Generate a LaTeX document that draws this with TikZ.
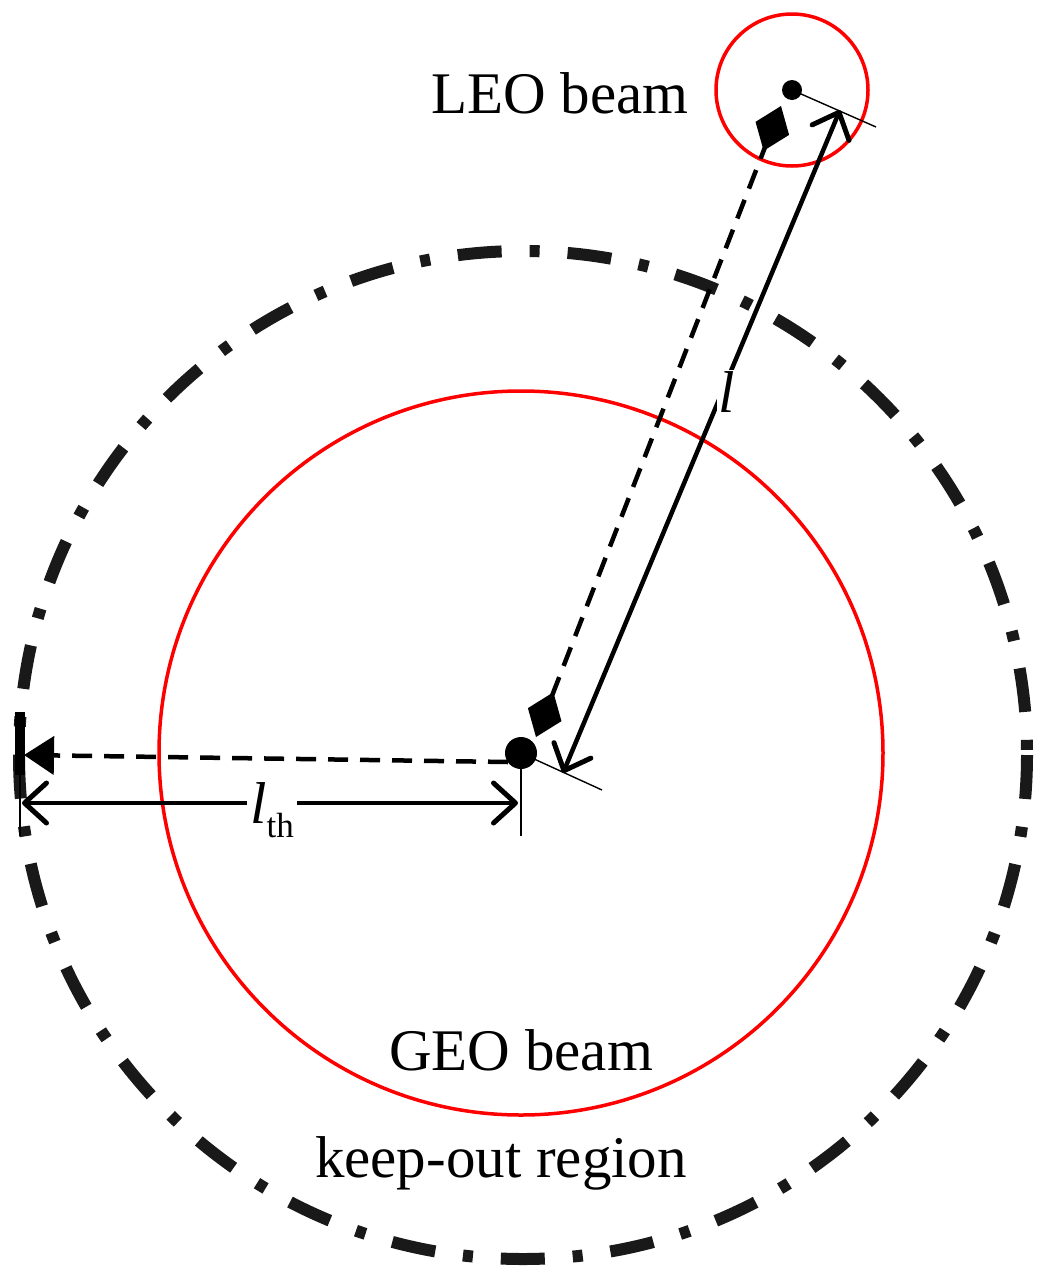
\documentclass[tikz,border=0pt]{standalone}
\usepackage{fontspec}
\setmainfont{Liberation Serif}
\usetikzlibrary{arrows.meta}
\begin{document}
\begin{tikzpicture}[x=1pt,y=-1pt,
  beam/.style={draw=red,line width=3.5pt},
  keep/.style={draw=black!90,line width=12pt,dash pattern=on 44pt off 28pt on 10pt off 28pt},
  thin/.style={line width=1.4pt},
  barb/.tip={Straight Barb[length=22pt,width=40pt,line width=5pt,round]},
  dim/.style={line width=4.5pt,barb-barb},
  dashdim/.style={line width=4.5pt,dash pattern=on 20pt off 12pt},
  lbl/.style={font=\fontsize{59}{62}\selectfont}]
\useasboundingbox (0,0) rectangle (1049,1283);
\coordinate (geo) at (521,753);
\coordinate (leo) at (792,90);
\draw[beam] (geo) circle (362);
\draw[beam] (leo) circle (76);
\draw[keep] (523,755) circle (504);
% thin ticks
\draw[thin] (geo) -- (602,790);
\draw[thin] (leo) -- (876,127);
\draw[thin] (geo) -- (521,836);
\draw[thin] (20,712) -- (20,836);
\draw[line width=10pt] (20,712) -- (20,775);
% dashed horizontal
\coordinate (hl) at (24,755);
\draw[dashdim,-{Triangle[length=30pt,width=38pt]}] (508,762) -- (hl);
% dashed diagonal
\coordinate (dt) at (781,106);
\coordinate (db) at (536,737);
\draw[dashdim,{Kite[length=48pt,width=36pt,inset=24pt]}-{Kite[length=48pt,width=36pt,inset=24pt]}] (db) -- (dt);
% solid l
\coordinate (st) at (840,110);
\coordinate (sb) at (563,773);
\draw[dim] (sb) -- (st);
\draw[dim] (22,803) -- (518,803);
\fill (geo) circle (16);
\fill (leo) circle (10);
\node[lbl,anchor=east] (leol) at (692,93) {LEO beam};
\node[lbl,fill=white,inner sep=2pt] (ll) at (727,392) {\itshape l};
\node[lbl,fill=white,inner sep=3pt] (lth) at (272,810) {\itshape l\normalfont\fontsize{35}{36}\selectfont\raisebox{-14pt}{th}};
\node[lbl] (geol) at (521,1050) {GEO beam};
\node[lbl] (kor) at (501,1163) {keep-out region};
\end{tikzpicture}
\end{document}
